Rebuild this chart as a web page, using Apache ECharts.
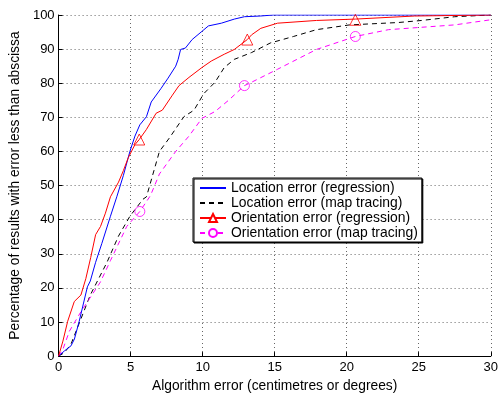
<!DOCTYPE html>
<html><head><meta charset="utf-8">
<script src="https://cdn.jsdelivr.net/npm/echarts@6/dist/echarts.min.js"></script>
<style>html,body{margin:0;padding:0;background:#fff}#c{width:501px;height:398px}</style>
</head><body><div id="c"></div>
<script>
const seriesNames = ['Location error (regression)','Location error (map tracing)','Orientation error (regression)','Orientation error (map tracing)'];
const xTicks = [0,5,10,15,20,25,30];
const yTicks = [0,10,20,30,40,50,60,70,80,90,100];

const locRegX = [0,0.4,0.86,1.1,1.43,2.0,2.2,2.57,3.0,3.6,4.04,4.5,4.95,5.3,5.64,6.1,6.43,7.1,7.6,8.13,8.3,8.47,8.8,9.27,9.95,10.4,11.3,12.2,12.9,14.0,14.9,30];
const locRegY = [0,1.5,3,5,10.2,20.3,22,27.5,33,41,46.7,53,60,64.5,67.8,70.2,74.5,78.4,81.5,85,87,89.9,90.3,92.8,95.2,96.8,97.6,98.8,99.5,99.7,100,100];

const locMapX = [0,0.4,0.86,2.2,3.36,4.16,4.95,5.86,6.1,7.0,7.7,8.7,9.4,10.07,10.86,11.5,12.2,13.1,13.4,14.7,16.3,17.9,20.2,23.6,25.2,27.5,30];
const locMapY = [0,1,3.5,17.9,27.5,35.2,41,46,46.7,60,64,70.2,72.1,76.9,80.3,84.6,87,88.5,89,91.8,93.7,95.7,97.1,97.8,98.4,99.5,100];

const oriRegX = [0,0.3,0.63,1.09,1.55,1.89,2.23,2.57,2.91,3.25,3.6,4.16,4.5,4.84,5.3,5.6,6.09,6.77,7.2,7.9,8.36,9.05,9.95,10.6,11.5,12.2,13.1,13.4,14.04,15.2,17.9,20.6,24.7,30];
const oriRegY = [0,4.4,10.2,16,17.9,22.7,28.9,35.6,38,41.9,46.7,51,54.4,58.2,62,63.5,66.4,71.2,72.1,76.5,79.3,81.7,84.6,86.5,88.5,89.9,92.8,94.2,96.1,97.6,98.4,98.8,99.7,100];

const oriMapX = [0,0.3,0.75,1.55,2.9,3.6,4.73,5.64,6.32,6.43,7.0,8.13,9.05,9.95,10.86,11.8,12.9,13.4,15.2,17.9,20.6,22.9,25.2,27.5,30];
const oriMapY = [0,2,7.3,13,21.7,28,38,42.4,46.7,47.6,53.4,60,64.5,69.7,71.7,75,79.3,80.3,84.1,89.9,93.7,95.7,96.4,97.1,98.6];

const oriRegMarkX = [5.6,13.1,20.6];
const oriRegMarkY = [63.5,92.8,98.6];
const oriMapMarkX = [5.64,12.9,20.6];
const oriMapMarkY = [42.4,79.3,93.7];

const zip = (xs, ys) => xs.map((x, i) => [x, ys[i]]);
const FONT = 'Liberation Sans';

const chart = echarts.init(document.getElementById('c'), null, {renderer: 'canvas'});
chart.setOption({
  animation: false,
  backgroundColor: '#fff',
  grid: {left: 54, right: 7, top: 15, bottom: 36, containLabel: false},
  xAxis: {
    type: 'value', min: 0, max: 30, interval: 5,
    name: 'Algorithm error (centimetres or degrees)', nameLocation: 'middle', nameGap: 17,
    nameTextStyle: {fontFamily: FONT, fontSize: 13.8, color: '#000'},
    axisLine: {lineStyle: {color: '#000', width: 1}},
    axisTick: {inside: true, length: 4, lineStyle: {color: '#000'}},
    axisLabel: {fontFamily: FONT, fontSize: 13, color: '#000', margin: 5,
      formatter: v => xTicks.includes(v) ? String(v) : ''},
    splitLine: {show: true, lineStyle: {color: '#666', type: [1, 3], width: 1}}
  },
  yAxis: {
    type: 'value', min: 0, max: 100, interval: 10,
    name: 'Percentage of results with error less than abscissa', nameLocation: 'middle', nameGap: 32,
    nameTextStyle: {fontFamily: FONT, fontSize: 13.8, color: '#000'},
    axisLine: {show: true, lineStyle: {color: '#000', width: 1}},
    axisTick: {show: true, inside: true, length: 4, lineStyle: {color: '#000'}},
    axisLabel: {fontFamily: FONT, fontSize: 13, color: '#000', margin: 4,
      formatter: v => yTicks.includes(v) ? String(v) : ''},
    splitLine: {show: true, lineStyle: {color: '#666', type: [1, 3], width: 1}}
  },
  legend: {
    orient: 'vertical', left: 193, top: 178,
    backgroundColor: '#fff', borderColor: '#000', borderWidth: 1,
    shadowColor: '#000', shadowOffsetX: 1, shadowOffsetY: 1, shadowBlur: 0,
    padding: [3, 4, 2, 6], itemGap: 1, itemWidth: 26, itemHeight: 10,
    textStyle: {fontFamily: FONT, fontSize: 13.9, color: '#000', lineHeight: 14},
    data: [
      {name: seriesNames[0], itemStyle: {opacity: 0}},
      {name: seriesNames[1], itemStyle: {opacity: 0}},
      {name: seriesNames[2]},
      {name: seriesNames[3]}
    ]
  },
  series: [
    {name: seriesNames[0], type: 'line', data: zip(locRegX, locRegY), symbol: 'none',
      lineStyle: {color: '#0000ff', width: 1}, itemStyle: {color: '#0000ff'}, z: 4},
    {name: seriesNames[1], type: 'line', data: zip(locMapX, locMapY), symbol: 'none',
      lineStyle: {color: '#000', width: 1, type: [5, 4]}, itemStyle: {color: '#000'}, z: 3},
    {name: seriesNames[2], type: 'line', data: zip(oriRegX, oriRegY), symbol: 'triangle', symbolSize: 10, showSymbol: false,
      lineStyle: {color: '#ff0000', width: 1}, itemStyle: {color: '#fff', borderColor: '#ff0000', borderWidth: 1}, z: 5},
    {name: seriesNames[3], type: 'line', data: zip(oriMapX, oriMapY), symbol: 'circle', symbolSize: 9, showSymbol: false,
      lineStyle: {color: '#ff00ff', width: 1, type: [5, 4]}, itemStyle: {color: '#fff', borderColor: '#ff00ff', borderWidth: 1}, z: 3},
    {type: 'scatter', data: zip(oriRegMarkX, oriRegMarkY), symbol: 'triangle', symbolSize: 11,
      itemStyle: {color: 'rgba(0,0,0,0)', borderColor: '#ff0000', borderWidth: 1}, z: 6},
    {type: 'scatter', data: zip(oriMapMarkX, oriMapMarkY), symbol: 'circle', symbolSize: 10,
      itemStyle: {color: 'rgba(0,0,0,0)', borderColor: '#ff00ff', borderWidth: 1}, z: 6}
  ]
});
</script></body></html>
